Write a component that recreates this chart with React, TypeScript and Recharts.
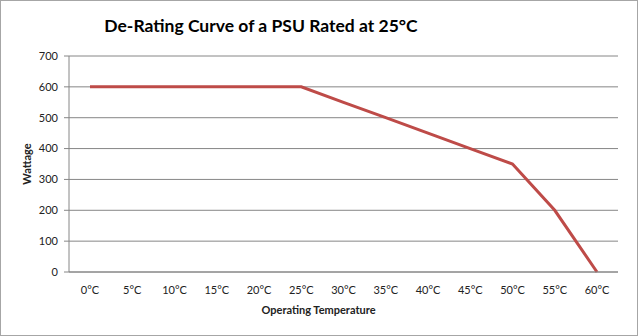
import React from 'react';
import { LineChart, Line, XAxis, YAxis, CartesianGrid, Label } from 'recharts';

const temps = ['0°C', '5°C', '10°C', '15°C', '20°C', '25°C', '30°C', '35°C', '40°C', '45°C', '50°C', '55°C', '60°C'];
const wattage = [600, 600, 600, 600, 600, 600, 550, 500, 450, 400, 350, 200, 0];
const yTicks = [0, 100, 200, 300, 400, 500, 600, 700];

const data = temps.map((t, i) => ({ temp: t, watts: wattage[i] }));

const FONT = 'Lato, "Open Sans", sans-serif';
const GRID = '#868686';

export default function App() {
  return (
    <div
      style={{
        position: 'absolute',
        left: 0,
        top: 0,
        width: 638,
        height: 336,
        boxSizing: 'border-box',
        border: '1px solid #a6a6a6',
        background: '#fff',
        fontFamily: FONT,
      }}
    >
      <div
        style={{
          position: 'absolute',
          left: 0,
          width: 520,
          top: 14,
          textAlign: 'center',
          fontSize: 17.5,
          fontWeight: 700,
          color: '#000',
          fontFamily: FONT,
        }}
      >
        De-Rating Curve of a PSU Rated at 25°C
      </div>
      <div style={{ position: 'absolute', left: -1, top: -1 }}>
        <LineChart width={638} height={336} data={data} margin={{ top: 56, right: 20, bottom: 34, left: 0 }}>
          <CartesianGrid stroke={GRID} vertical={false} />
          <XAxis
            dataKey="temp"
            height={30}
            padding={{ left: 21, right: 21 }}
            axisLine={{ stroke: GRID }}
            tickLine={false}
            tickSize={8}
            tickMargin={6}
            interval={0}
            tick={{ fill: '#222', fontSize: 11, fontFamily: FONT }}
          >
            <Label
              value="Operating Temperature"
              position="bottom"
              offset={4}
              dx={-25}
              style={{ fill: '#222', fontSize: 11, fontWeight: 700, fontFamily: FONT }}
            />
          </XAxis>
          <YAxis
            width={69}
            domain={[0, 700]}
            ticks={yTicks}
            interval={0}
            axisLine={{ stroke: GRID }}
            tickLine={{ stroke: GRID }}
            tickSize={5}
            tickMargin={6}
            tick={{ fill: '#222', fontSize: 11, fontFamily: FONT }}
          >
            <Label
              value="Wattage"
              angle={-90}
              position="insideLeft"
              offset={27}
              style={{ fill: '#222', fontSize: 11, fontWeight: 700, fontFamily: FONT, textAnchor: 'middle' }}
            />
          </YAxis>
          <Line
            type="linear"
            dataKey="watts"
            stroke="#BE4B48"
            strokeWidth={3}
            dot={false}
            activeDot={false}
            isAnimationActive={false}
          />
        </LineChart>
      </div>
    </div>
  );
}
